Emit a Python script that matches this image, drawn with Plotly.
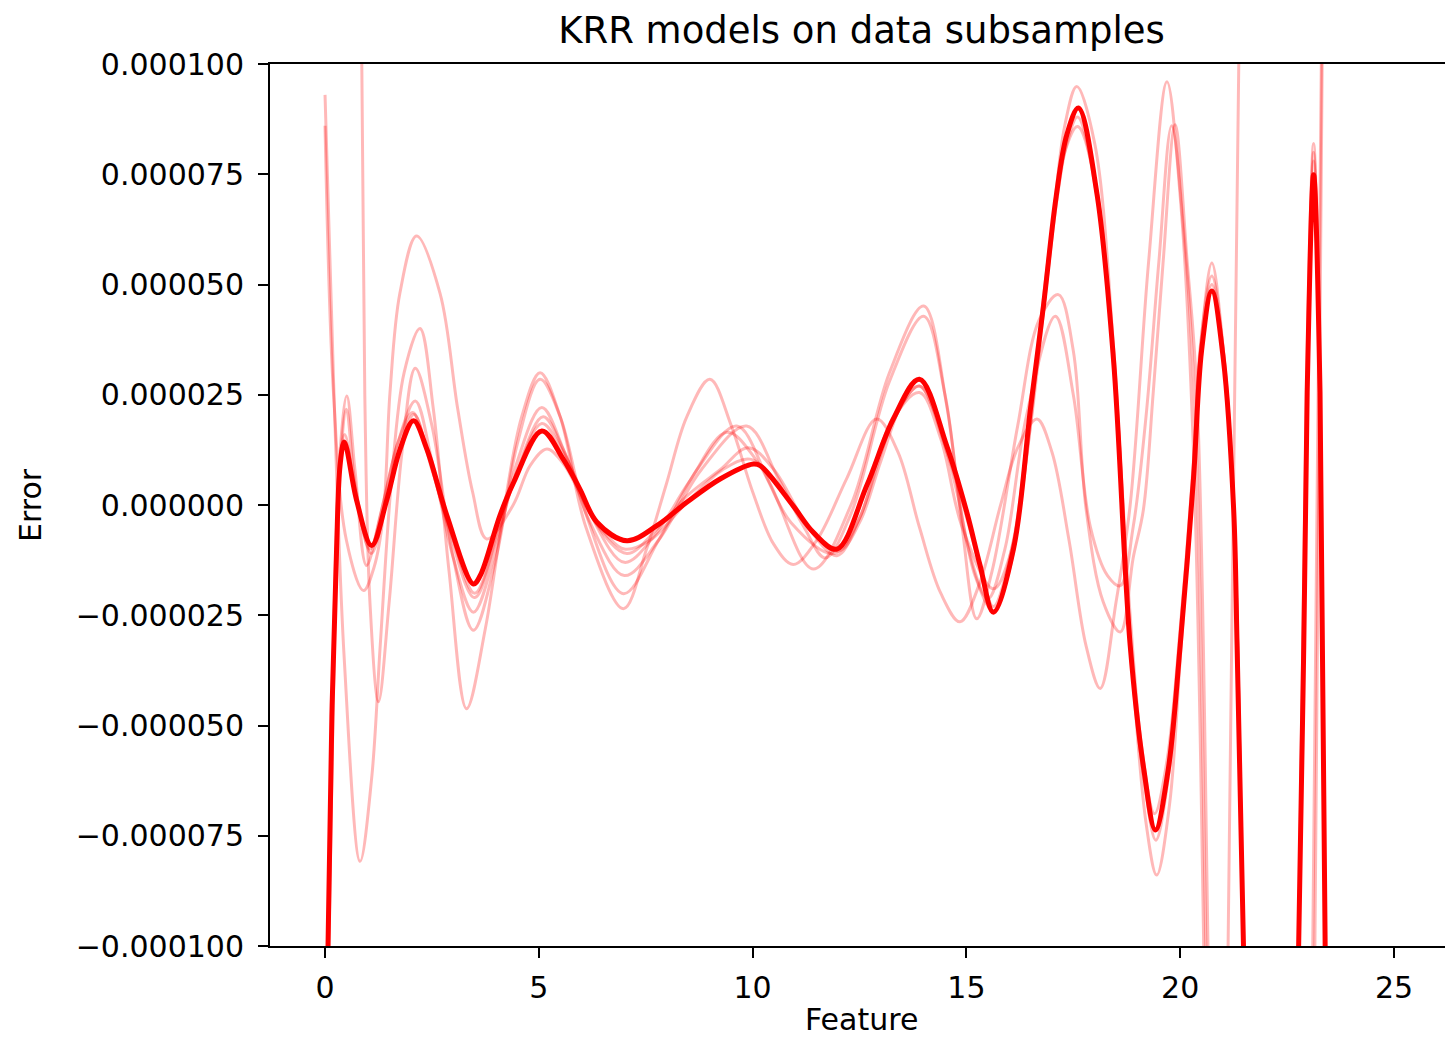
import plotly.graph_objects as go

# ---- data (y values in units of 1e-6) ----
thick_x = [0.0, 0.07, 0.16, 0.27, 0.35, 0.45, 0.74, 1.09, 1.44, 1.75, 2.07, 2.38, 2.85, 3.47, 3.63, 4.09, 4.41,
           5.07, 5.57, 5.96, 6.36, 7.06, 7.76, 8.46, 9.24, 10.02, 10.18, 10.95, 11.42, 11.97, 12.67, 13.29, 13.9,
           14.54, 15.01, 15.32, 15.63, 16.1, 16.5, 16.8, 17.1, 17.35, 17.62, 18.05, 18.44, 18.83, 19.15, 19.42,
           19.72, 20.0, 20.31, 20.5, 20.74, 21.01, 21.25, 21.33, 21.48, 21.8, 22.2, 22.55, 22.77, 22.89, 22.97,
           23.12, 23.27, 23.39, 23.6]
thick_y = [-170, -100, -48, -10, 8.8, 14.3, 1, -9.2, 1, 12.5, 19.1, 12.7, -2.4, -17.9, -16, -2.4, 5.1,
           16.8, 10.4, 3.6, -3.9, -8.1, -4.7, 0.6, 5.9, 9.3, 8.9, -0.2, -6.2, -10.0, 4.4, 19.5, 28.5,
           13.4, -1.7, -13.7, -24.3, -10, 22, 45, 70, 84, 90, 70.8, 33, -31.8, -60, -73.7,
           -60, -31.8, 5.9, 35, 48.5, 33, -1, -31.8, -100, -220, -300, -220, -100, -31.8, 25.6,
           74.9, 25.6, -100, -250]

p_x = [0, 0.2, 0.45, 0.82, 1.09, 1.29, 1.55, 1.85, 2.22, 2.53, 2.9, 3.31, 3.75, 4.2, 4.6, 5.03, 5.5, 6.1, 6.98,
       7.52, 7.99, 8.46, 9.0, 9.5, 10.0, 10.5, 10.95, 11.5, 12.2, 12.9, 13.4, 13.9, 14.4, 14.85, 15.3, 15.8, 16.2,
       16.65, 17.0, 17.4, 17.8, 18.13, 18.5, 18.83, 19.26, 19.69, 20.0, 20.3, 20.55, 20.8, 20.95, 21.12, 21.37,
       21.6, 22.0]
p_y = [93, 28, -35, -80.8, -62, -32, 5, 30, 40, 22, -15, -46.2, -28, 0, 20, 30, 20, -5, -23.5,
       -10, 5, 20, 28.5, 18, 3, -9, -13.5, -8, 6, 19.5, 12, -5, -20, -26.5, -18, 0, 13,
       19.5, 12, -8, -32, -41.6, -22, 0, 55, 96, 70, 15, -100, -300, -300, -100, 100,
       300, 500]

q_x = [0, 0.2, 0.5, 0.9, 1.15, 1.36, 1.52, 1.75, 2.14, 2.69, 3.1, 3.45, 3.78, 4.4, 4.8, 5.19, 5.6, 6.2, 6.6, 7.0,
       7.6, 8.5, 9.3, 9.94, 10.5, 11.2, 12.0, 12.5, 13.0, 13.5, 13.9, 14.3, 14.8, 15.2, 15.63, 16.0, 16.4, 16.9,
       17.3, 17.6, 18.0, 18.44, 18.83, 19.1, 19.4, 19.69, 20.0, 20.31, 20.47, 20.74, 21.01, 21.25, 21.48, 21.8,
       22.2, 22.55, 22.77, 22.97, 23.12, 23.27, 23.39, 23.6]
q_y = [86, 25, -8, -19.4, -14, -2.5, 25.6, 48, 61, 48, 22, 3, -7.7, 0, 9, 12.7, 9, -2, -7, -10,
       -8, 1, 8, 10.4, 6, -4, -10.5, -4, 10, 23, 27, 20, 2, -16, -24, -15, 10, 55,
       80, 85.8, 74, 33, -25, -55, -70, -58, -28, 10, 36, 51.9, 35, 0, -100, -220,
       -300, -220, -100, 26, 80, 26, -100, -250]

r_x = [0, 0.5, 0.75, 0.86, 0.93, 1.05, 1.25, 1.5, 1.8, 2.11, 2.5, 3.0, 3.47, 4.0, 4.5, 5.03, 5.5, 6.1, 6.98,
       7.8, 8.7, 9.63, 10.4, 11.42, 12.3, 13.2, 14.0, 14.54, 14.9, 15.24, 15.6, 16.2, 16.7, 17.15, 17.5, 17.8,
       18.2, 18.6, 18.9, 19.14, 19.37, 19.6, 19.88, 20.16, 20.39, 20.65, 20.9, 22.0, 22.9, 23.1, 23.3, 23.5]
r_y = [500, 280, 150, 100, 25, -22, -44.6, -22, 12, 31, 18, -12, -28.4, -12, 14, 28.5, 20, -2, -20.1,
       -8, 8, 17.9, 5, -14.5, 0, 30, 45.1, 22.5, -5, -25.8, -15, 18, 42, 47.7, 35, -1,
       -22, -28.8, -12, -1, 25.6, 55, 86.2, 55.6, 25.6, -100, -300, -600, -300, -100, 100, 300]

s_x = [0, 0.08, 0.2, 0.35, 0.51, 0.7, 0.97, 1.3, 1.7, 2.11, 2.5, 3.0, 3.47, 4.0, 4.5, 5.07, 5.6, 6.2, 7.0, 7.8,
       8.8, 9.86, 10.6, 11.2, 11.7, 12.3, 13.2, 14.0, 14.5, 15.0, 15.5, 15.9, 16.4, 17.08, 17.5, 17.9, 18.3,
       18.6, 18.9, 19.2, 19.5, 19.8, 20.1, 20.35, 20.6, 20.9, 22.0, 22.95, 23.15, 23.32, 23.5]
s_y = [-250, -100, -30, 12, 24.7, 8, -13.7, -2, 14, 23.6, 10, -12, -24.3, -10, 10, 22.1, 12, -4, -16, -8,
       8, 17.9, 6, -5, -12, -2, 28, 42.8, 25, -8, -21.3, -10, 20, 42.8, 25, -5, -16,
       -18.3, -5, 20, 55, 86, 60, 20, -100, -300, -600, -300, -100, 100, 300]

u_x = [0, 0.09, 0.22, 0.36, 0.5, 0.7, 1.05, 1.4, 1.7, 2.05, 2.5, 3.0, 3.5, 4.0, 4.5, 5.1, 5.6, 6.2, 7.0, 7.7,
       8.5, 9.4, 10.1, 10.9, 11.9, 12.5, 13.2, 13.9, 14.4, 14.9, 15.63, 16.0, 16.5, 17.0, 17.3, 17.58, 18.0,
       18.44, 18.83, 19.2, 19.45, 19.75, 20.0, 20.31, 20.5, 20.74, 21.0, 21.25, 21.48, 21.8, 22.2, 22.55,
       22.77, 22.95, 23.12, 23.27, 23.39, 23.6]
u_y = [-250, -100, -30, 10, 21.7, 5, -10, 2, 14, 21, 8, -8, -20, -8, 8, 20, 12, -2, -13, -7,
       5, 16.5, 10, -4, -11, -3, 18, 25.5, 15, -5, -19, -12, 18, 62, 86, 94.9, 82,
       36, -30, -72, -83.9, -68, -35, 8, 38, 54.9, 36, 0, -100, -220, -300, -220,
       -100, 25, 82, 26, -100, -250]

v_x = [0, 0.07, 0.16, 0.27, 0.35, 0.46, 0.75, 1.08, 1.44, 1.75, 2.08, 2.4, 2.85, 3.5, 4.09, 4.41, 5.07, 5.57,
       5.96, 6.36, 7.06, 7.76, 8.46, 9.24, 9.9, 10.5, 11.3, 11.97, 12.5, 13.29, 13.9, 14.54, 15.01, 15.32, 15.63,
       16.1, 16.5, 16.8, 17.1, 17.35, 17.6, 18.05, 18.44, 18.83, 19.15, 19.43, 19.72, 20.0, 20.31, 20.5,
       20.74, 21.01, 21.25, 21.48, 21.8, 22.2, 22.55, 22.77, 22.89, 22.97, 23.12, 23.27, 23.39, 23.6]
v_y = [-250, -100, -48, -10, 9, 16, 1, -11, 1, 13, 20.5, 12, -4, -21, -4, 5, 18.5, 12,
       4, -4.5, -11, -5.5, 2, 8, 13, 8, -5, -11.5, -3, 19, 27, 12, -3, -14, -23,
       -8, 22, 44, 68, 82, 88, 70, 32, -32, -62, -76, -62, -32, 6, 35,
       50, 33, -1, -100, -220, -300, -220, -100, -31.8, 25.6, 78, 25.6, -100, -250]

thin_series = [(p_x, p_y), (q_x, q_y), (r_x, r_y), (s_x, s_y), (u_x, u_y), (v_x, v_y)]

y_tick_vals = [-100, -75, -50, -25, 0, 25, 50, 75, 100]
y_tick_text = ["\u22120.000100", "\u22120.000075", "\u22120.000050", "\u22120.000025", "0.000000",
               "0.000025", "0.000050", "0.000075", "0.000100"]
x_tick_vals = [0, 5, 10, 15, 20, 25]

SCALE = 1e-6

fig = go.Figure()
for xs, ys in thin_series:
    fig.add_trace(go.Scatter(x=xs, y=[v * SCALE for v in ys], mode="lines",
                             line=dict(color="rgba(255,0,0,0.28)", width=3, shape="spline", smoothing=1.0),
                             showlegend=False, hoverinfo="skip"))
fig.add_trace(go.Scatter(x=thick_x, y=[v * SCALE for v in thick_y], mode="lines",
                         line=dict(color="rgb(255,0,0)", width=5, shape="spline", smoothing=1.0),
                         showlegend=False, hoverinfo="skip"))

# page body has an 8px margin; the figure is sized so the plot area lands where the reference has it
font_family = "DejaVu Sans"
fig.update_layout(
    width=1445, height=1030,
    margin=dict(l=262, r=0, t=56, b=92, autoexpand=False),
    paper_bgcolor="white", plot_bgcolor="white",
    font=dict(family=font_family, size=30, color="black"),
    title=dict(text="KRR models on data subsamples", x=0.5, xref="paper", xanchor="center",
               y=1 - 22 / 1030, yref="container", yanchor="middle", automargin=False,
               font=dict(family=font_family, size=37, color="black")),
    xaxis=dict(range=[-1.287, 26.38], tickvals=x_tick_vals, ticks="outside", ticklen=10, tickwidth=2,
               tickcolor="black", showline=True, linecolor="black", linewidth=2, mirror=True,
               showgrid=False, zeroline=False, automargin=False, ticklabelstandoff=4,
               tickfont=dict(size=30)),
    yaxis=dict(range=[-100 * SCALE, 100 * SCALE], tickvals=[v * SCALE for v in y_tick_vals],
               ticktext=y_tick_text, ticks="outside", ticklen=10, tickwidth=2, tickcolor="black",
               showline=True, linecolor="black", linewidth=2, mirror=False,
               showgrid=False, zeroline=False, automargin=False, ticklabelstandoff=8,
               tickfont=dict(size=30)),
    annotations=[
        dict(text="Feature", xref="paper", yref="paper", x=0.5, y=-0.0839, xanchor="center",
             yanchor="middle", showarrow=False, font=dict(family=font_family, size=30, color="black")),
        dict(text="Error", xref="paper", yref="paper", x=-0.2029, y=0.5, xanchor="center",
             yanchor="middle", textangle=-90, showarrow=False,
             font=dict(family=font_family, size=30, color="black")),
    ],
)

fig.write_html("out.html")
